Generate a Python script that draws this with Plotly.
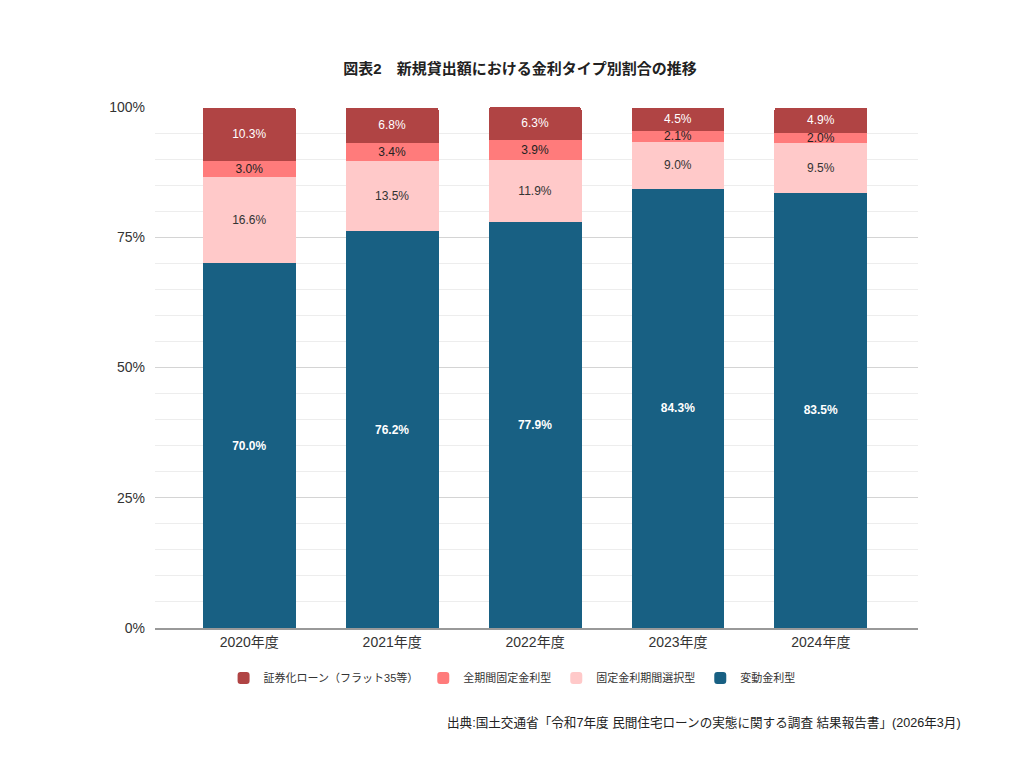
import plotly.graph_objects as go

years = ['2020年度', '2021年度', '2022年度', '2023年度', '2024年度']

# 金利タイプ別割合 (%)
hendo = [70.0, 76.2, 77.9, 84.3, 83.5]
kotei_sentaku = [16.6, 13.5, 11.9, 9.0, 9.5]
zenkikan_kotei = [3.0, 3.4, 3.9, 2.1, 2.0]
shokenka = [10.3, 6.8, 6.3, 4.5, 4.9]

FONT = 'Liberation Sans, Arial, Noto Sans CJK JP, sans-serif'

series = [
    ('変動金利型', hendo, '#186083', dict(color='white', size=12, weight='bold')),
    ('固定金利期間選択型', kotei_sentaku, '#FFC9C9', dict(color='#333333', size=12)),
    ('全期間固定金利型', zenkikan_kotei, '#FF7B7B', dict(color='#222222', size=12)),
    ('証券化ローン（フラット35等）', shokenka, '#B04444', dict(color='white', size=12)),
]

fig = go.Figure()
for name, vals, color, tf in series:
    fig.add_trace(go.Bar(
        x=years, y=vals, name=name,
        marker=dict(color=color, line=dict(width=0)),
        text=[f'{v:.1f}%' for v in vals],
        textposition='inside',
        insidetextanchor='middle',
        textfont=dict(family=FONT, **tf),
        hovertemplate='%{x}<br>' + name + ': %{y:.1f}%<extra></extra>',
    ))

fig.update_layout(
    barmode='stack',
    bargap=0.35,
    barcornerradius=3,
    width=1024, height=760,
    paper_bgcolor='white', plot_bgcolor='white',
    font=dict(family=FONT, size=13, color='#222222'),
    margin=dict(l=147, r=114, t=99, b=140),
    title=dict(
        text='<b>図表2　新規貸出額における金利タイプ別割合の推移</b>',
        x=0.5, xanchor='center', y=0.92, yanchor='middle',
        font=dict(size=15, color='#222222'),
    ),
    uniformtext=dict(minsize=12, mode='show'),
    legend=dict(
        orientation='h', x=0.468, xanchor='center', y=-0.096, yanchor='middle',
        traceorder='reversed', font=dict(size=11, color='#333333'),
        itemsizing='constant', itemwidth=30,
    ),
    showlegend=True,
)

fig.update_yaxes(
    range=[0, 100], tickvals=[0, 25, 50, 75, 100],
    ticktext=['0%', '25%', '50%', '75%', '100%'],
    showgrid=True, gridcolor='#d4d4d4', gridwidth=1,
    minor=dict(dtick=5, showgrid=True, gridcolor='#ededed', gridwidth=1),
    zeroline=False, ticks='', ticklabelstandoff=9,
    tickfont=dict(size=14, color='#333333'),
)
fig.update_xaxes(
    range=[-0.66, 4.68],
    showline=True, linecolor='#999999', linewidth=1.5,
    ticks='', tickfont=dict(size=14, color='#333333'),
)

fig.add_annotation(
    text='出典:国土交通省「令和7年度 民間住宅ローンの実態に関する調査 結果報告書」(2026年3月)',
    xref='paper', yref='paper', x=1.059, y=-0.182,
    xanchor='right', yanchor='middle', showarrow=False,
    font=dict(size=12.6, color='#222222'),
)

fig.write_html('out.html')
